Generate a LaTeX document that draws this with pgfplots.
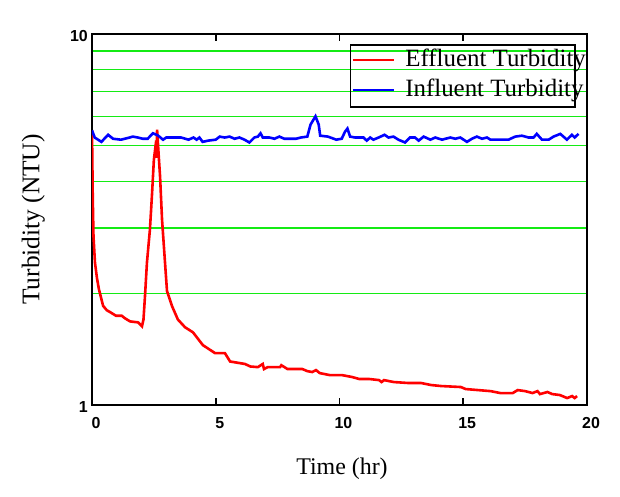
\documentclass[border=0pt]{standalone}
\usepackage{fontspec}
\setmainfont{Liberation Serif}
\newfontfamily\tickfont{Liberation Sans}
\usepackage{pgfplots}
\pgfplotsset{compat=1.18}
\definecolor{gridgreen}{RGB}{20,235,20}
\definecolor{effred}{RGB}{255,0,0}
\definecolor{infblue}{RGB}{0,0,255}
\begin{document}
\begin{tikzpicture}
\useasboundingbox (-92bp,-92bp) rectangle (528bp,405bp);
\begin{axis}[
  scale only axis,
  width=495bp, height=371bp,
  xmin=0, xmax=20, ymin=1, ymax=10,
  ymode=log,
  axis line style={line width=1.6bp},
  xtick={0,5,10,15,20},
  xticklabels={0,5,10,15,20},
  ytick={1,10},
  yticklabels={1,10},
  minor xtick={},
  minor ytick={2,3,4,5,6,7,8,9},
  yminorgrids=true,
  ymajorgrids=false,
  minor grid style={gridgreen, line width=1.1bp},
  ytick style={draw=none},
  xtick style={line width=1.6bp, black},
  major tick length=7bp,
  xtick pos=both,
  tick align=inside,
  ticklabel style={font=\tickfont\bfseries\fontsize{16}{16}\selectfont},
  xticklabel style={inner sep=0pt, anchor=north, yshift=-12bp, xshift=4bp},
  yticklabel style={inner sep=0pt, anchor=east, xshift=-4bp, yshift=-2bp},
  xlabel={Time (hr)},
  ylabel={Turbidity (NTU)},
  xlabel style={font=\fontsize{24}{24}\selectfont, at={(axis description cs:0.505,-0.143)}, anchor=north, inner sep=0pt},
  ylabel style={font=\fontsize{25.5}{25.5}\selectfont, at={(axis description cs:-0.095,0.5)}, anchor=south, inner sep=0pt},
  legend style={at={(axis description cs:0.521,0.973)}, anchor=north west,
    draw=black, line width=1.6bp, fill=none, inner xsep=1bp, inner ysep=4bp,
    row sep=6bp, column sep=9bp,
    font=\fontsize{25}{25}\selectfont,
    nodes={inner sep=1bp, anchor=base west, text height=17bp, text depth=5bp}},
  legend cell align=left,
  legend image code/.code={\draw[#1, line width=2.6bp] (0bp,7bp) -- (41bp,7bp);},
]
\addplot[effred, line width=2.6bp] coordinates {
(0,5.5) (0.03,3.65) (0.06,2.85) (0.12,2.42) (0.2,2.2) (0.28,2.05) (0.45,1.85)
(0.6,1.80) (0.73,1.78) (0.97,1.74) (1.2,1.74) (1.35,1.71) (1.54,1.68) (1.86,1.67)
(2.02,1.63) (2.08,1.70) (2.14,1.96) (2.22,2.42) (2.34,2.97) (2.42,3.65) (2.5,4.58)
(2.55,4.88) (2.6,4.64) (2.63,5.52) (2.68,4.88) (2.75,4.13) (2.83,3.16) (2.95,2.42)
(3.03,2.03) (3.23,1.85) (3.47,1.70) (3.76,1.62) (4.08,1.57) (4.48,1.45) (4.97,1.38)
(5.37,1.38) (5.58,1.31) (6.18,1.29) (6.4,1.27) (6.7,1.265) (6.9,1.29) (6.95,1.25)
(7.1,1.265) (7.6,1.265) (7.65,1.28) (7.9,1.25) (8.5,1.25) (8.7,1.234) (8.9,1.227)
(9.05,1.242) (9.2,1.219) (9.6,1.204) (10.1,1.204) (10.5,1.19) (10.8,1.175)
(11.2,1.175) (11.6,1.167) (11.7,1.153) (11.8,1.167) (12.2,1.153) (12.8,1.146)
(13.3,1.146) (13.7,1.132) (14.1,1.125) (14.9,1.118) (15.1,1.104) (15.6,1.097)
(16.1,1.09) (16.5,1.077) (17.0,1.077) (17.2,1.097) (17.5,1.09) (17.8,1.077)
(18.0,1.09) (18.1,1.07) (18.4,1.084) (18.6,1.07) (18.9,1.064) (19.2,1.044)
(19.4,1.057) (19.5,1.044) (19.6,1.057)
};
\addlegendentry{\makebox[168bp][l]{Effluent Turbidity}}
\addplot[infblue, line width=2.6bp] coordinates {
(0,5.5) (0.11,5.26) (0.38,5.12) (0.65,5.35) (0.85,5.22) (1.17,5.19) (1.52,5.26)
(1.65,5.29) (1.85,5.26) (2.05,5.22) (2.25,5.22) (2.46,5.40) (2.66,5.33) (2.87,5.19)
(3.0,5.26) (3.6,5.26) (3.9,5.19) (4.1,5.26) (4.23,5.19) (4.34,5.26) (4.47,5.12)
(4.7,5.16) (5.0,5.19) (5.16,5.29) (5.36,5.26) (5.56,5.29) (5.76,5.22) (5.96,5.26)
(6.16,5.19) (6.36,5.10) (6.56,5.26) (6.7,5.29) (6.81,5.40) (6.9,5.26) (7.17,5.26)
(7.37,5.22) (7.57,5.29) (7.77,5.22) (8.04,5.22) (8.24,5.22) (8.44,5.26) (8.7,5.29)
(8.83,5.70) (9.03,6.0) (9.16,5.70) (9.22,5.32) (9.53,5.29) (9.87,5.19) (10.09,5.22)
(10.22,5.45) (10.32,5.56) (10.43,5.29) (10.63,5.26) (10.97,5.26) (11.1,5.16)
(11.24,5.26) (11.37,5.19) (11.58,5.26) (11.82,5.35) (11.98,5.26) (12.18,5.29)
(12.38,5.19) (12.65,5.10) (12.85,5.26) (13.05,5.26) (13.2,5.16) (13.4,5.29)
(13.67,5.19) (13.87,5.26) (14.14,5.19) (14.48,5.26) (14.68,5.22) (14.88,5.26)
(15.15,5.12) (15.35,5.22) (15.55,5.29) (15.76,5.22) (15.96,5.26) (16.1,5.19)
(16.43,5.19) (16.83,5.19) (17.1,5.29) (17.37,5.32) (17.64,5.26) (17.84,5.26)
(17.97,5.38) (18.18,5.19) (18.45,5.19) (18.65,5.29) (18.92,5.38) (19.19,5.19)
(19.39,5.35) (19.5,5.26) (19.66,5.38)
};
\addlegendentry{\makebox[168bp][l]{Influent Turbidity}}
\end{axis}
\end{tikzpicture}
\end{document}
